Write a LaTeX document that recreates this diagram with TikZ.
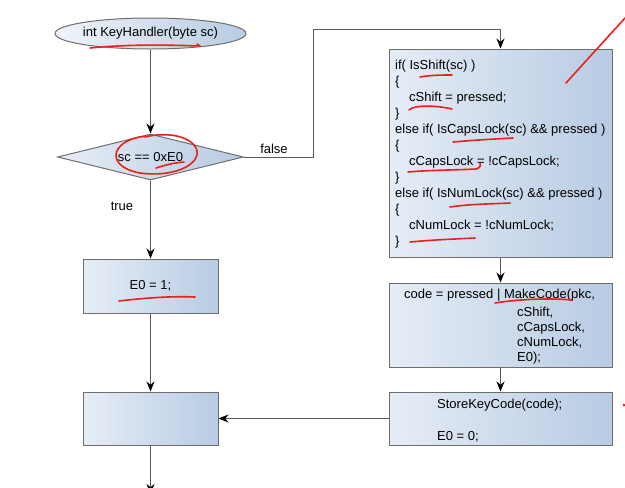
\documentclass[tikz,border=0pt]{standalone}
\usepackage{fontspec}
\setmainfont{Liberation Sans}
\usetikzlibrary{shapes.geometric,arrows.meta}
\definecolor{bord}{HTML}{6E6E6E}
\definecolor{lineg}{HTML}{5A5A5A}
\definecolor{fillL}{HTML}{E6EDF6}
\definecolor{fillR}{HTML}{B8CBE3}
\definecolor{pen}{HTML}{E8221A}
\tikzset{
  base/.style={draw=bord, line width=1pt, left color=fillL, right color=fillR, inner sep=0pt,
     font=\fontsize{13}{15}\selectfont},
  flowbox/.style={base, rectangle},
  ellip/.style={base, ellipse, left color=fillL!60, right color=fillR},
  dia/.style={base, diamond, aspect=4},
  conn/.style={draw=lineg, line width=0.9pt, -{Stealth[length=10pt,width=8pt,color=black]}},
  txt/.style={font=\fontsize{13}{15}\selectfont, inner sep=0pt, anchor=base west},
  lbl/.style={font=\fontsize{13}{15}\selectfont, inner sep=0pt},
  redpen/.style={draw=pen, line width=1.6pt, line cap=round, line join=round}
}
\begin{document}
\begin{tikzpicture}[x=1pt,y=-1pt]
\useasboundingbox (0,0) rectangle (625,488);
\clip (0,0) rectangle (625,488);

% nodes
\node[ellip, minimum width=149pt, minimum height=31pt] (start) at (150.5,33.5) {int KeyHandler(byte sc)};
\node[dia, minimum width=186pt, minimum height=46pt] (test) at (150.5,157) {sc == 0xE0};
\node[flowbox, minimum width=135pt, minimum height=54pt] (eone) at (150.5,286) {E0 = 1;};
\node[flowbox, minimum width=135pt, minimum height=53pt] (join) at (150.5,418.5) {};
\node[flowbox, minimum width=223pt, minimum height=208pt] (big) at (500.5,153) {};
\node[flowbox, minimum width=223pt, minimum height=84pt] (make) at (500.5,325) {};
\node[flowbox, minimum width=223pt, minimum height=53pt] (store) at (500.5,418.5) {};

% text of the big box
\node[txt] (b1) at (395,69) {if( IsShift(sc) )};
\node[txt] (b2) at (395,85) {\{};
\node[txt] (b3) at (409,101) {cShift = pressed;};
\node[txt] (b4) at (395,117) {\}};
\node[txt] (b5) at (395,133) {else if( IsCapsLock(sc) \&\& pressed )};
\node[txt] (b6) at (395,149) {\{};
\node[txt] (b7) at (409,165) {cCapsLock = !cCapsLock;};
\node[txt] (b8) at (395,181) {\}};
\node[txt] (b9) at (395,197) {else if( IsNumLock(sc) \&\& pressed )};
\node[txt] (b10) at (395,213) {\{};
\node[txt] (b11) at (409,229) {cNumLock = !cNumLock;};
\node[txt] (b12) at (395,245) {\}};

% text of the MakeCode box
\node[txt] (m1) at (404,298) {code = pressed | MakeCode(pkc,};
\node[txt] (m2) at (517,316) {cShift,};
\node[txt] (m3) at (517,331) {cCapsLock,};
\node[txt] (m4) at (517,346) {cNumLock,};
\node[txt] (m5) at (517,361) {E0);};

% text of the store box
\node[txt] (s1) at (437,408) {StoreKeyCode(code);};
\node[txt] (s2) at (437,440) {E0 = 0;};

% labels
\node[lbl] (lfalse) at (274,149) {false};
\node[lbl] (ltrue) at (122,206) {true};

% connectors
\coordinate (cA) at (313,29);
\coordinate (cEnd) at (150.5,494);
\draw[conn] (start.south) -- (test.north);
\draw[conn] (test.east) -| (cA) -| (big.north);
\draw[conn] (test.south) -- (eone.north);
\draw[conn] (eone.south) -- (join.north);
\draw[conn] (big.south) -- (make.north);
\draw[conn] (make.south) -- (store.north);
\draw[conn] (store.west) -- (join.east);
\draw[conn] (join.south) -- (cEnd);

% red pen annotations
\draw[redpen] (90,48) .. controls (130,44) and (170,45) .. (200,46) -- (197,44);
\draw[redpen] (150,136) .. controls (112,137) and (102,166) .. (140,173) .. controls (178,178) and (203,162) .. (196,148) .. controls (189,135) and (165,132) .. (145,137);
\draw[redpen] (156,168) .. controls (168,164) and (175,163) .. (184,162);
\draw[redpen] (119,301) .. controls (145,298) and (170,296) .. (195,297);
\draw[redpen] (420,77) .. controls (432,75) and (442,75) .. (452,75);
\draw[redpen] (409,110) .. controls (415,104) and (440,106) .. (452,109);
\draw[redpen] (453,142) .. controls (475,140) and (495,139) .. (513,138);
\draw[redpen] (408,172) .. controls (430,170) and (460,170) .. (476,169) .. controls (480,168) and (481,166) .. (480,163);
\draw[redpen] (450,207) .. controls (470,204) and (490,204) .. (510,203);
\draw[redpen] (410,242) .. controls (430,240) and (455,239) .. (475,238);
\draw[redpen] (566,83) .. controls (585,62) and (605,40) .. (625,18);
\draw[redpen] (495,303) .. controls (520,299) and (550,298) .. (572,300);
\fill[pen] (624,405) circle (1.5pt);
\end{tikzpicture}
\end{document}
